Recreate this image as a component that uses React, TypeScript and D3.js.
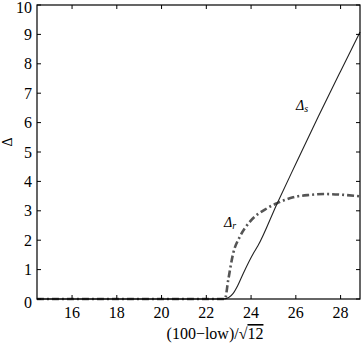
import React, { useEffect, useRef } from 'react'
import * as d3 from 'd3'

// values
const sX = [14.43, 22.75, 23.0, 23.2, 23.4, 23.65, 24.1, 24.3, 25.17, 26, 27, 28, 28.87]
const sY = [0, 0, 0.05, 0.19, 0.45, 0.87, 1.55, 1.8, 3.26, 4.6, 6.2, 7.75, 9.08]
const rX = [14.43, 22.83, 22.98, 23.2, 23.5, 23.95, 24.7, 25.17, 25.88, 26.63, 27.3, 28.0, 28.87]
const rY = [0, 0, 0.65, 1.55, 2.12, 2.63, 3.08, 3.26, 3.46, 3.54, 3.57, 3.55, 3.49]
const xTicks = [16, 18, 20, 22, 24, 26, 28]
const yTicks = [0, 1, 2, 3, 4, 5, 6, 7, 8, 9, 10]

const W = 361
const H = 343
const margin = { top: 5, right: 1, bottom: 44, left: 37 }

const App = () => {
  const ref = useRef<SVGSVGElement>(null)

  useEffect(() => {
    const svg = d3.select(ref.current)
    svg.selectAll('*').remove()
    const iw = W - margin.left - margin.right
    const ih = H - margin.top - margin.bottom

    const x = d3.scaleLinear().domain([50 / Math.sqrt(12), 100 / Math.sqrt(12)]).range([0, iw])
    const y = d3.scaleLinear().domain([0, 10]).range([ih, 0])

    const g = svg.append('g').attr('transform', `translate(${margin.left},${margin.top})`)
    const font = "'Liberation Serif', 'Times New Roman', serif"

    const line = d3
      .line<[number, number]>()
      .x(d => x(d[0]))
      .y(d => y(d[1]))
      .curve(d3.curveMonotoneX)

    g.append('path')
      .attr('d', line(rX.map((v, i) => [v, rY[i]]) as [number, number][]))
      .attr('fill', 'none')
      .attr('stroke', '#555')
      .attr('stroke-width', 2.6)
      .attr('stroke-dasharray', '7,3,2,3')

    g.append('path')
      .attr('d', line(sX.map((v, i) => [v, sY[i]]) as [number, number][]))
      .attr('fill', 'none')
      .attr('stroke', '#222')
      .attr('stroke-width', 1.1)

    // box
    g.append('rect')
      .attr('width', iw)
      .attr('height', ih)
      .attr('fill', 'none')
      .attr('stroke', '#000')
      .attr('stroke-width', 1.2)

    const tl = 4
    xTicks.forEach(t => {
      g.append('line').attr('x1', x(t)).attr('x2', x(t)).attr('y1', ih).attr('y2', ih - tl).attr('stroke', '#000')
      g.append('line').attr('x1', x(t)).attr('x2', x(t)).attr('y1', 0).attr('y2', tl).attr('stroke', '#000')
      g.append('text')
        .attr('x', x(t))
        .attr('y', ih + 18.5)
        .attr('text-anchor', 'middle')
        .style('font-family', font)
        .attr('font-size', 16)
        .text(t)
    })
    yTicks.forEach(t => {
      g.append('line').attr('x1', 0).attr('x2', tl).attr('y1', y(t)).attr('y2', y(t)).attr('stroke', '#000')
      g.append('line').attr('x1', iw).attr('x2', iw - tl).attr('y1', y(t)).attr('y2', y(t)).attr('stroke', '#000')
      g.append('text')
        .attr('x', -5)
        .attr('y', t === 0 ? y(t) + 9 : Math.max(y(t) + 5.5, 8))
        .attr('text-anchor', 'end')
        .style('font-family', font)
        .attr('font-size', 16)
        .text(t)
    })

    // curve labels
    const lbl = (px: number, py: number, sub: string) => {
      const t = g.append('text').attr('x', px).attr('y', py).style('font-family', font).attr('font-size', 14).attr('font-style', 'italic')
      t.append('tspan').text('Δ')
      t.append('tspan').attr('font-size', 10).attr('dy', 2).text(sub)
    }
    lbl(296 - margin.left, 110 - margin.top, 's')
    lbl(224 - margin.left, 227 - margin.top, 'r')

    // axis titles
    svg.append('text')
      .attr('transform', 'translate(12,142) rotate(-90)')
      .attr('text-anchor', 'middle')
      .style('font-family', font)
      .attr('font-size', 14)
      .text('Δ')

    const xt = svg.append('text')
      .attr('x', 215)
      .attr('y', 339)
      .attr('text-anchor', 'middle')
      .style('font-family', font)
      .attr('font-size', 16)
    xt.append('tspan').text('(100−low)/√')
    xt.append('tspan').style('text-decoration', 'overline').text('12')
  }, [])

  return (
    <svg
      ref={ref}
      width={W}
      height={H}
      style={{ display: 'block', position: 'fixed', top: 0, left: 0, background: '#fff' }}
    />
  )
}

export default App
